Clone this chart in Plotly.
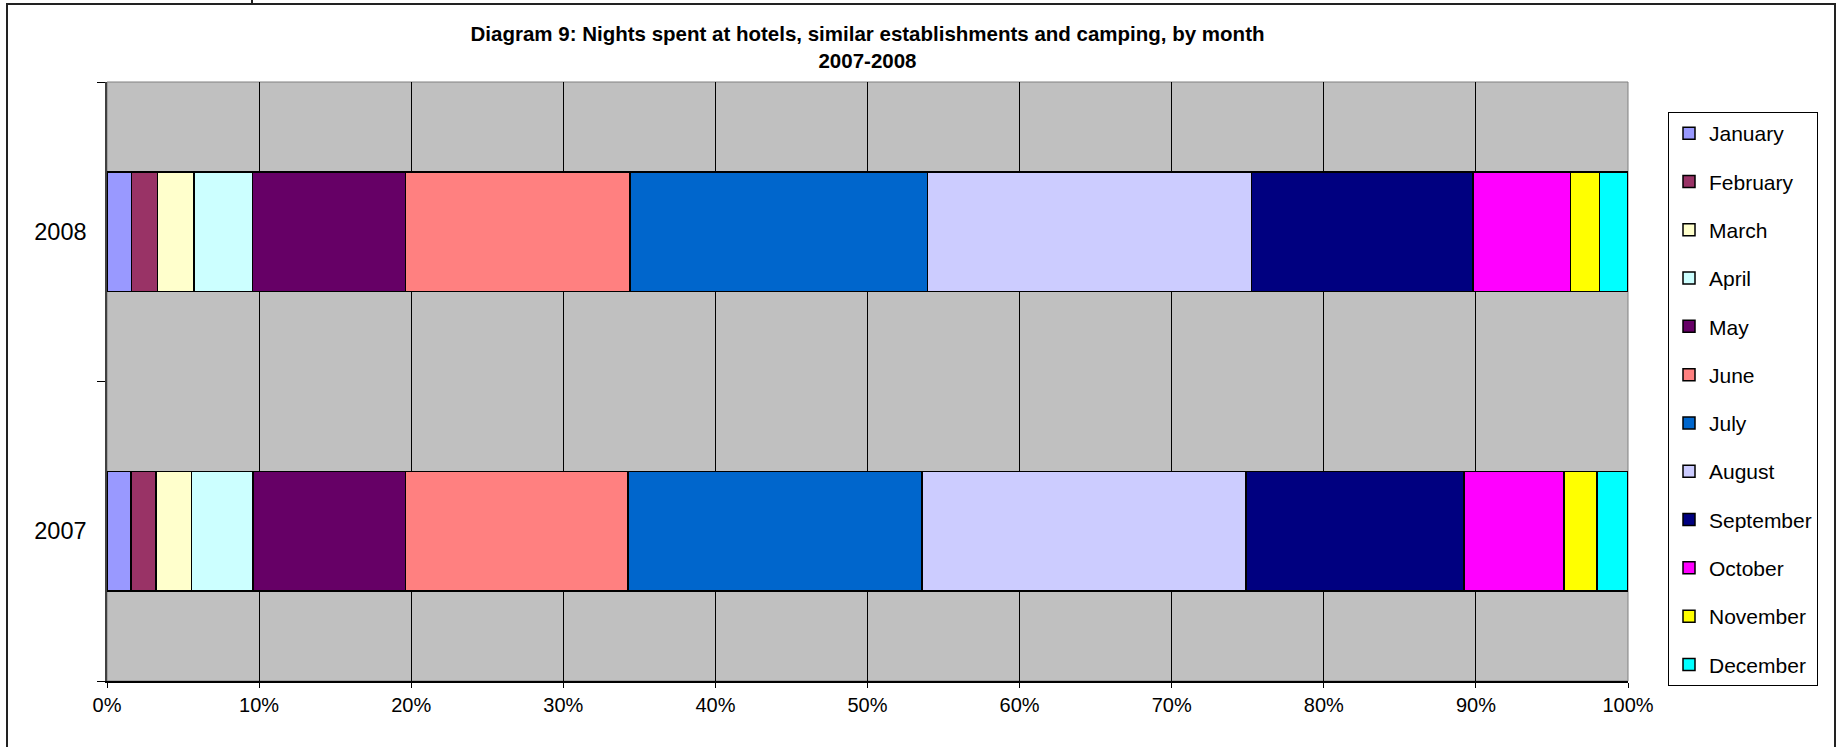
import plotly.graph_objects as go

years = ["2007", "2008"]
months = ["January", "February", "March", "April", "May", "June", "July",
          "August", "September", "October", "November", "December"]
share_2007 = [1.57, 1.64, 2.33, 4.07, 10.03, 14.62, 19.33, 21.28, 14.34, 6.58, 2.17, 2.04]
share_2008 = [1.62, 1.69, 2.41, 3.84, 10.05, 14.78, 19.56, 21.28, 14.57, 6.42, 1.91, 1.87]
colors = ["#9999FF", "#993366", "#FFFFCC", "#CCFFFF", "#660066", "#FF8080",
          "#0066CC", "#CCCCFF", "#000080", "#FF00FF", "#FFFF00", "#00FFFF"]
x_ticks = list(range(0, 101, 10))
x_tick_labels = [f"{v}%" for v in x_ticks]

W, H = 1841, 747
L, R, T, B = 107, 1628, 82, 681  # plot area in px

def px_x(p):
    return (p - L) / (R - L)

def px_y(p):
    return (B - p) / (B - T)

fig = go.Figure()
for i, m in enumerate(months):
    fig.add_trace(go.Bar(
        name=m, y=years, x=[share_2007[i], share_2008[i]], orientation="h",
        marker=dict(color=colors[i], line=dict(color="#000000", width=1.5)),
        legendgroup=m,
    ))

fig.update_layout(
    width=W, height=H,
    barmode="stack", bargap=0.6,
    paper_bgcolor="white", plot_bgcolor="#C0C0C0",
    margin=dict(l=L, r=W - R, t=T, b=H - B, pad=0),
    font=dict(family="Arial, Liberation Sans, sans-serif", color="#000000"),
    title=dict(
        text="Diagram 9: Nights spent at hotels, similar establishments and camping, by month<br>2007-2008",
        font=dict(size=20.5, family="Arial, Liberation Sans, sans-serif", color="#000000", weight="bold"),
        x=0.5, xref="paper", xanchor="center",
        y=1 - 41 / H, yref="container", yanchor="middle",
    ),
    legend=dict(
        x=px_x(1668), y=px_y(112), xanchor="left", yanchor="top",
        xref="paper", yref="paper",
        traceorder="grouped", tracegroupgap=18,
        bordercolor="#000000", borderwidth=1, bgcolor="white",
        font=dict(size=21), itemwidth=30,
    ),
    xaxis=dict(
        range=[0, 100], tickvals=x_ticks, ticktext=x_tick_labels,
        showgrid=True, gridcolor="#000000", gridwidth=1,
        zeroline=False, showline=True, linecolor="#000000", linewidth=2,
        ticks="outside", ticklen=5, tickcolor="#000000",
        tickfont=dict(size=20), fixedrange=True,
    ),
    yaxis=dict(
        type="category", categoryorder="array", categoryarray=years,
        showgrid=False, zeroline=False, showline=True, linecolor="#404040", linewidth=1.5,
        ticks="outside", ticklen=8, tickcolor="#000000", tickson="boundaries",
        tickfont=dict(size=23.5), ticklabelstandoff=14, fixedrange=True,
    ),
    showlegend=True,
    shapes=[
        dict(type="rect", xref="paper", yref="paper", x0=0, x1=1, y0=0, y1=1,
             line=dict(color="#808080", width=1), layer="below"),
        dict(type="rect", xref="paper", yref="paper",
             x0=px_x(7), x1=px_x(1835), y0=px_y(770), y1=px_y(4),
             line=dict(color="#222222", width=2)),
        dict(type="line", xref="paper", yref="paper",
             x0=px_x(252), x1=px_x(252), y0=px_y(4), y1=px_y(-4),
             line=dict(color="#222222", width=2)),
    ],
)

fig.write_html("out.html", config={"displayModeBar": False},
               post_script="document.body.style.margin='0';")
